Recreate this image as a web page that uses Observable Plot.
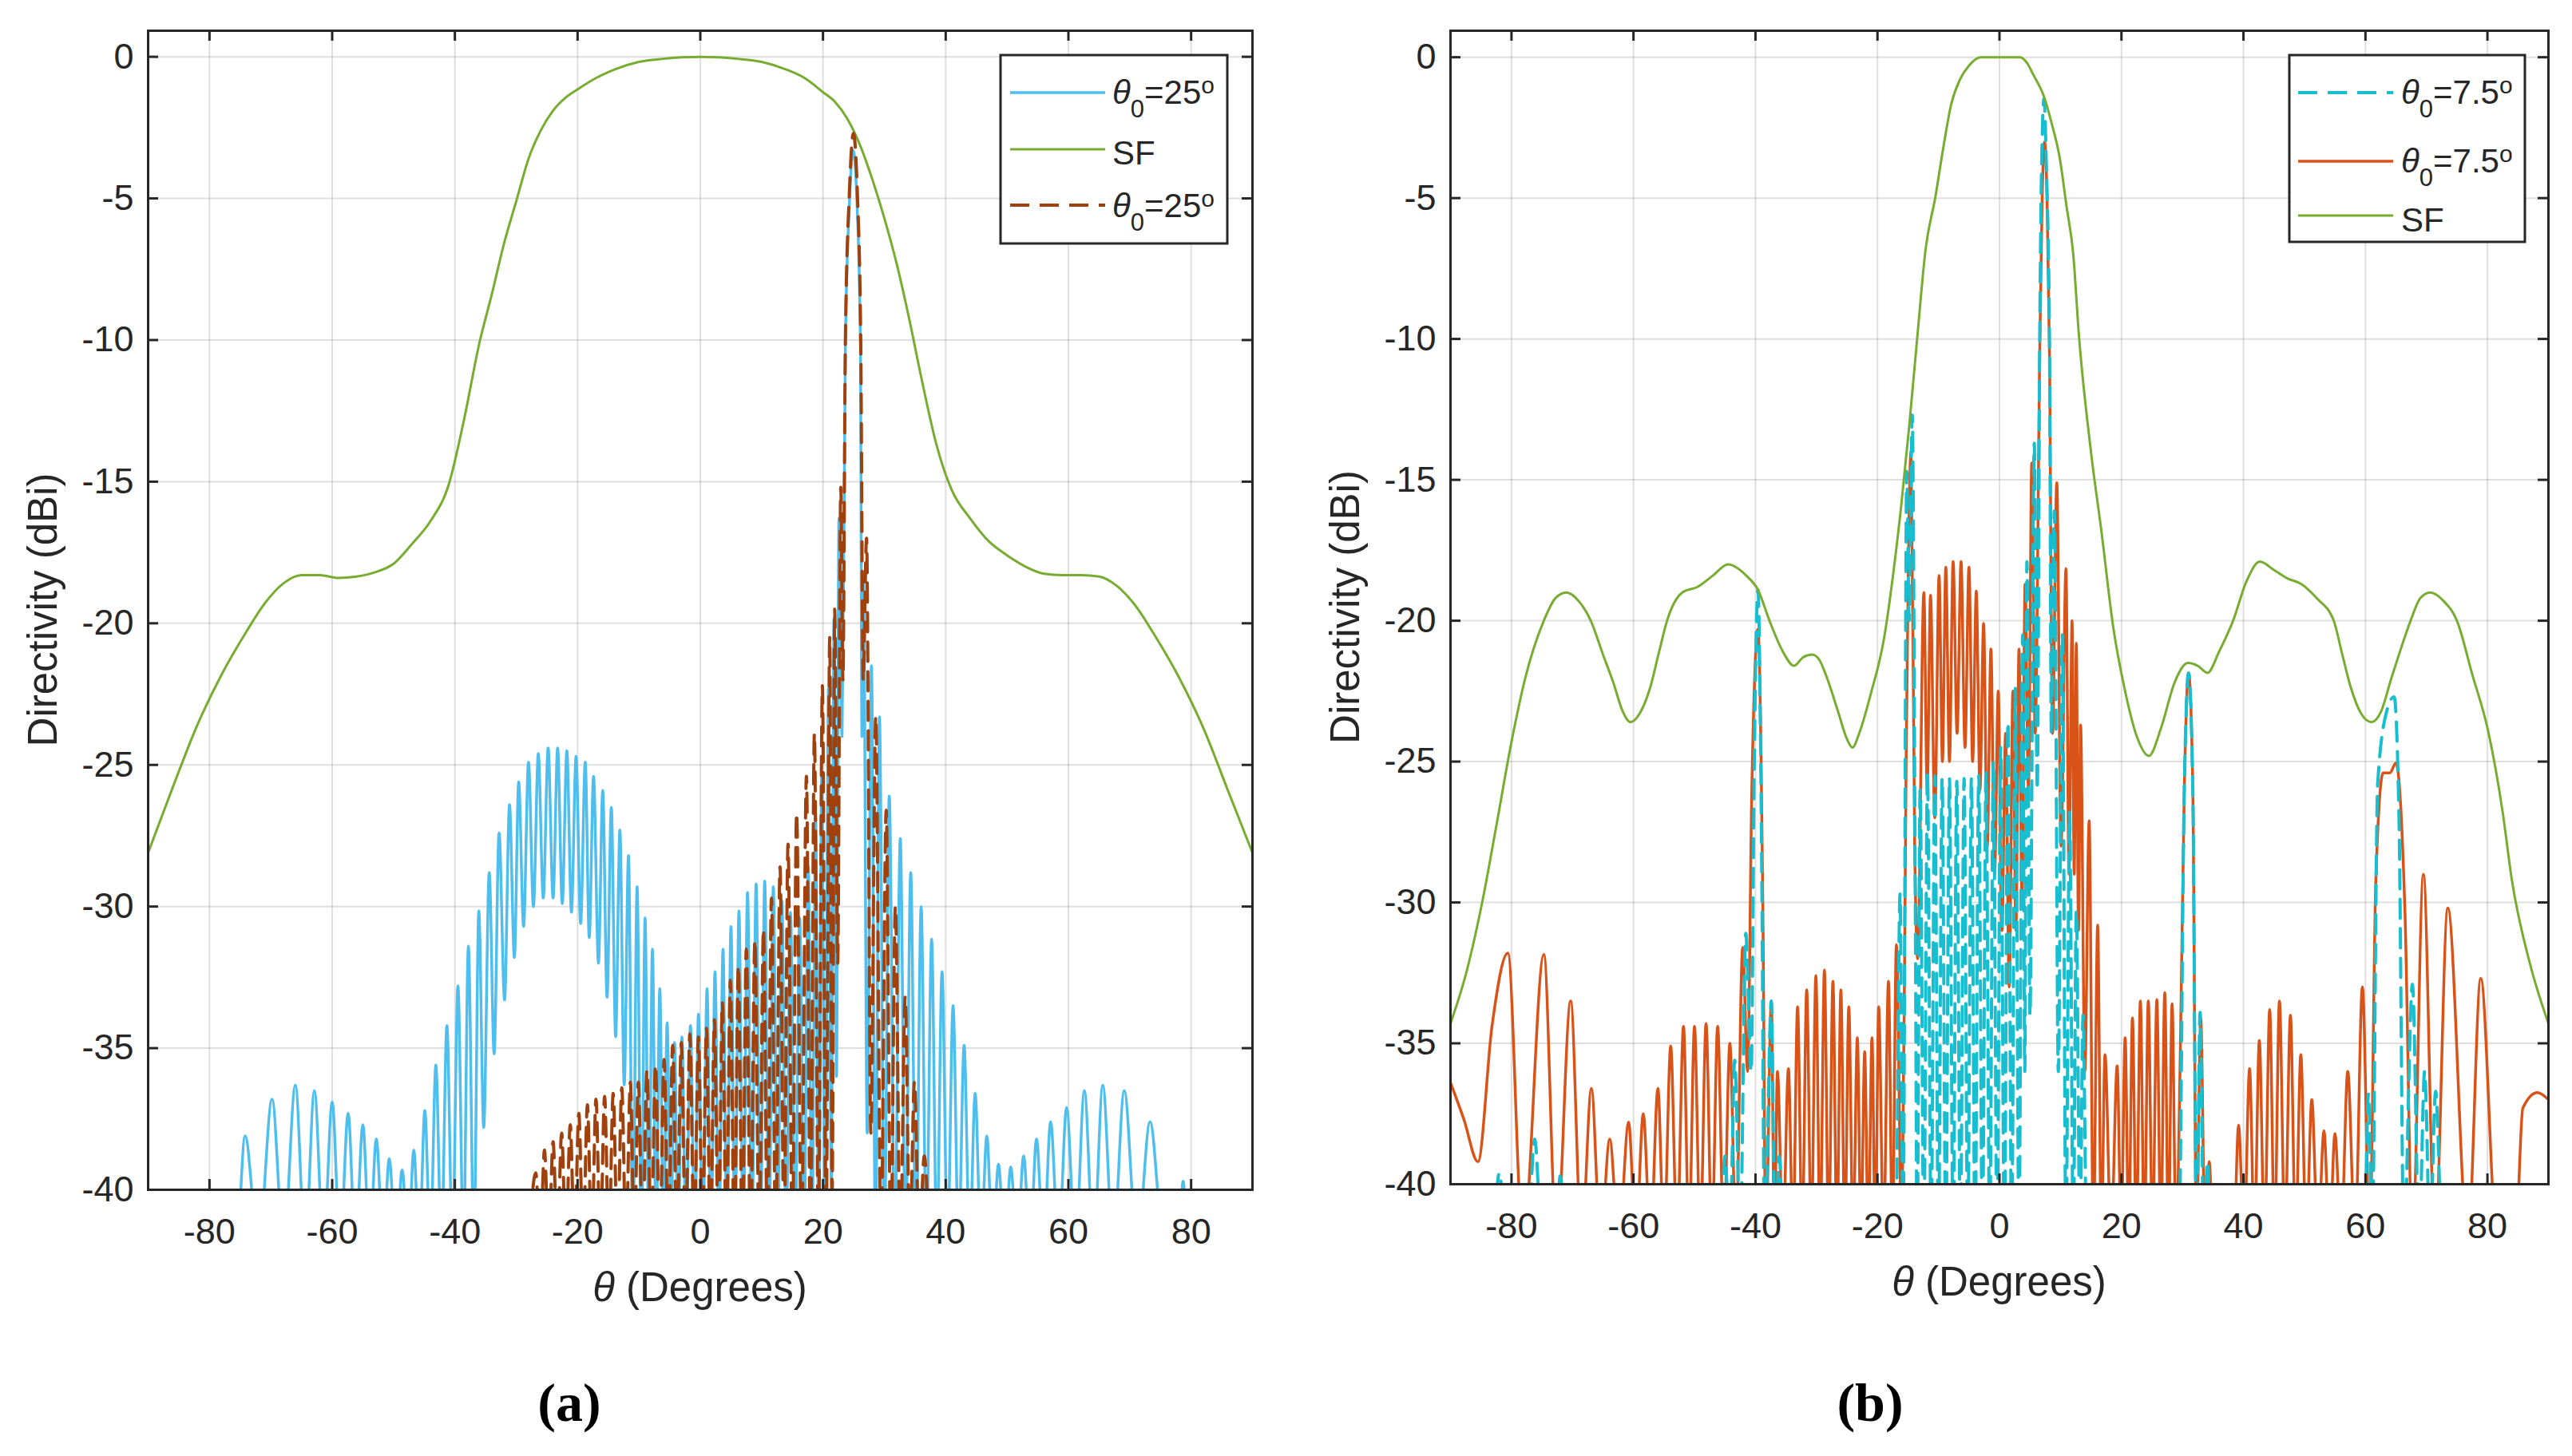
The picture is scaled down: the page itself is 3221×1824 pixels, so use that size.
<!DOCTYPE html>
<html><head><meta charset="utf-8">
<script src="https://cdn.jsdelivr.net/npm/d3@7"></script>
<script src="https://cdn.jsdelivr.net/npm/@observablehq/plot@0.6"></script>
<style>
html,body{margin:0;padding:0;background:#fff;}
#page{position:relative;width:3221px;height:1824px;overflow:hidden;background:#fff;}
.panel{position:absolute;top:0;}
.cap{position:absolute;top:1757px;font-family:"Liberation Serif","Times New Roman",serif;font-weight:bold;font-size:68px;color:#000;transform:translate(-50%,-50%);white-space:nowrap;}
</style></head><body>
<div id="page">
  <div id="pa" class="panel" style="left:0;width:1610px;"></div>
  <div id="pb" class="panel" style="left:1610px;width:1611px;"></div>
  <div class="cap" style="left:713px;">(a)</div>
  <div class="cap" style="left:2342px;">(b)</div>
</div>
<script>
// ---------- data ----------
const xTicks = [-80, -60, -40, -20, 0, 20, 40, 60, 80];
const yTicks = [0, -5, -10, -15, -20, -25, -30, -35, -40];

// panel (a)
const aSF = [[-90,-28.1],[-86,-25.8],[-82,-23.6],[-78,-21.8],[-74,-20.3],[-71,-19.3],[-68,-18.6],[-65,-18.3],[-62,-18.3],[-59,-18.4],[-56,-18.35],[-53,-18.2],[-50,-17.9],[-47,-17.2],[-44,-16.4],[-41,-15.1],[-38.5,-12.8],[-36,-10.1],[-34,-8.4],[-32,-6.6],[-30,-5.1],[-28,-3.6],[-26,-2.6],[-24,-1.9],[-22,-1.45],[-20,-1.15],[-17,-0.75],[-14,-0.45],[-10,-0.18],[-6,-0.07],[-3,-0.02],[0,0],[3,-0.02],[6,-0.07],[10,-0.18],[14,-0.45],[17,-0.75],[20,-1.25],[22,-1.6],[24,-2.2],[26,-3.1],[28,-4.3],[30,-5.7],[32,-7.3],[34,-9.2],[36,-11.3],[38.5,-13.7],[41,-15.3],[44,-16.3],[47,-17.1],[50,-17.6],[53,-18.0],[56,-18.25],[59,-18.3],[62,-18.3],[65,-18.35],[68,-18.7],[71,-19.4],[74,-20.4],[78,-21.9],[82,-23.7],[86,-25.9],[90,-28.1]];

const aBlue = [[-90,-42],[-75.6,-42],[-74.2,-38.1],[-72.0,-42],[-69.8,-36.8],[-67.9,-42],[-66.0,-36.3],[-64.4,-42],[-62.9,-36.5],[-61.4,-42],[-60.0,-36.9],[-58.7,-42],[-57.4,-37.3],[-56.2,-42],[-55.0,-37.7],[-53.9,-42],[-52.8,-38.2],[-51.7,-42],[-50.7,-38.9],[-49.6,-42],[-48.6,-39.3],[-47.6,-42],[-46.7,-38.6],[-45.8,-42],[-44.9,-37.2],[-44.0,-42],[-43.1,-35.6],[-42.2,-42],[-41.3,-34.2],[-40.4,-42],[-39.5,-32.8],[-38.6,-42],[-37.8,-31.4],[-36.9,-42],[-36.1,-30.15],[-35.3,-37.8],[-34.4,-28.8],[-33.6,-35.2],[-32.8,-27.4],[-31.9,-33.3],[-31.1,-26.4],[-30.3,-31.8],[-29.6,-25.6],[-28.8,-30.7],[-28.0,-24.9],[-27.2,-30.0],[-26.4,-24.6],[-25.6,-29.7],[-24.8,-24.4],[-24.0,-29.7],[-23.25,-24.4],[-22.5,-29.9],[-21.75,-24.5],[-21.0,-30.2],[-20.25,-24.7],[-19.5,-30.6],[-18.75,-24.9],[-18.1,-31.1],[-17.4,-25.4],[-16.6,-32.0],[-15.9,-25.9],[-15.2,-33.2],[-14.5,-26.5],[-13.8,-34.6],[-13.1,-27.3],[-12.4,-36.3],[-11.7,-28.2],[-11.0,-42],[-10.3,-29.3],[-9.6,-42],[-9.0,-30.4],[-8.4,-42],[-7.8,-31.5],[-7.2,-42],[-6.6,-32.9],[-6.0,-42],[-5.4,-34.1],[-4.8,-42],[-4.2,-34.8],[-3.6,-42],[-3.0,-34.6],[-2.3,-42],[-1.6,-34.2],[-0.9,-42],[-0.3,-33.8],[0.4,-42],[1.1,-32.9],[1.75,-42],[2.4,-32.3],[3.05,-42],[3.7,-31.5],[4.35,-42],[5.0,-30.7],[5.65,-42],[6.3,-30.15],[7.0,-42],[7.7,-29.5],[8.4,-42],[9.1,-29.2],[9.8,-42],[10.5,-29.1],[11.2,-42],[11.9,-29.3],[12.6,-42],[13.3,-29.8],[14.0,-42],[14.7,-30.2],[15.45,-42],[16.2,-30.4],[16.9,-42],[17.6,-28.6],[18.2,-42],[18.8,-26.8],[19.3,-42],[19.8,-25.3],[20.35,-42],[20.9,-22.3],[21.35,-40],[21.8,-19.8],[22.2,-36],[22.6,-16.3],[23.1,-24],[23.65,-10.2],[24.3,-5.2],[24.9,-3.3],[25.55,-5.2],[26.1,-10.2],[26.35,-24],[26.6,-18.2],[27.2,-38],[27.9,-21.5],[28.55,-42],[29.2,-23.3],[30.0,-42],[30.8,-26.1],[31.7,-42],[32.6,-27.6],[33.45,-42],[34.3,-28.8],[35.15,-42],[36.0,-30.0],[36.85,-42],[37.7,-31.15],[38.55,-42],[39.4,-32.3],[40.3,-42],[41.2,-33.5],[42.1,-42],[43.0,-34.9],[43.9,-42],[44.8,-36.6],[45.75,-42],[46.7,-38.1],[47.65,-42],[48.6,-39.1],[49.6,-42],[50.6,-39.2],[51.65,-42],[52.7,-38.8],[53.75,-42],[54.8,-38.2],[55.95,-42],[57.1,-37.6],[58.4,-42],[59.7,-37.1],[61.15,-42],[62.6,-36.5],[64.1,-42],[65.6,-36.3],[67.3,-42],[69.1,-36.5],[71.2,-42],[73.3,-37.6],[75.6,-42],[77.9,-42],[78.7,-39.7],[79.5,-42],[90,-42]];

const aBrown = [[-28,-42],[-26.8,-39.4],[-26.1,-42],[-25.4,-38.6],[-24.7,-42],[-24.0,-38.3],[-23.3,-42],[-22.6,-38.0],[-21.9,-42],[-21.2,-37.7],[-20.5,-42],[-19.8,-37.3],[-19.1,-42],[-18.4,-37.0],[-17.7,-42],[-17.0,-36.8],[-16.3,-42],[-15.6,-36.7],[-14.9,-42],[-14.2,-36.6],[-13.5,-42],[-12.8,-36.4],[-12.1,-42],[-11.4,-36.2],[-10.75,-42],[-10.1,-36.2],[-9.4,-42],[-8.7,-35.8],[-8.0,-42],[-7.3,-35.6],[-6.6,-42],[-5.9,-35.4],[-5.2,-42],[-4.5,-34.9],[-3.8,-42],[-3.1,-34.8],[-2.4,-42],[-1.7,-34.5],[-1.0,-42],[-0.3,-34.6],[0.35,-42],[1.0,-34.3],[1.65,-42],[2.3,-34.0],[2.95,-42],[3.6,-33.4],[4.25,-42],[4.9,-32.6],[5.55,-42],[6.2,-32.1],[6.85,-42],[7.5,-31.5],[8.2,-42],[8.9,-31.2],[9.6,-42],[10.3,-30.8],[10.95,-42],[11.6,-29.7],[12.3,-42],[13.0,-28.6],[13.65,-42],[14.3,-27.8],[15.0,-42],[15.7,-26.7],[16.5,-42],[17.3,-25.4],[17.95,-42],[18.6,-23.9],[19.25,-42],[19.9,-22.2],[20.5,-42],[21.1,-20.5],[21.5,-40],[21.9,-19.5],[22.4,-32],[22.9,-15.2],[23.25,-22],[23.65,-10.0],[24.3,-4.8],[24.95,-2.7],[25.6,-4.8],[26.15,-10.0],[26.55,-22],[27.1,-17.0],[27.8,-38],[28.6,-23.3],[29.45,-42],[30.3,-26.6],[31.05,-42],[31.8,-30.0],[32.6,-42],[33.4,-33.2],[34.15,-42],[34.9,-36.2],[35.7,-42],[36.5,-38.8],[37.3,-42]];

// panel (b)
const bSF = [[-90,-34.3],[-87.3,-32.4],[-84.9,-30.1],[-82.5,-27.3],[-80,-24.3],[-77.7,-22.0],[-74.7,-20.0],[-72.8,-19.2],[-71,-19.0],[-69,-19.3],[-67,-20.0],[-65,-21.2],[-63.3,-22.2],[-61.8,-23.2],[-60.5,-23.6],[-59,-23.3],[-57.3,-22.4],[-55.8,-21.1],[-54.5,-20.0],[-52,-19.0],[-49.5,-18.8],[-47,-18.4],[-44.5,-18.0],[-41.5,-18.4],[-39.6,-18.9],[-37.7,-20.0],[-35.5,-21.1],[-33.7,-21.6],[-32.2,-21.3],[-30.7,-21.2],[-29.5,-21.4],[-28.5,-21.9],[-26.5,-23.2],[-25,-24.2],[-24.1,-24.5],[-23,-24.0],[-21.1,-22.6],[-18.9,-20.6],[-17.4,-18.3],[-16.1,-15.9],[-14.8,-13.1],[-13.5,-10.0],[-12.1,-6.8],[-10.5,-4.95],[-9.2,-3.2],[-7.9,-1.66],[-6.5,-0.8],[-5,-0.3],[-3.1,0],[0,0],[3.4,0],[4.5,-0.2],[5.5,-0.6],[7.3,-1.4],[8.5,-2.3],[9.9,-3.6],[11.0,-5.3],[12.1,-7.0],[13.0,-9.8],[15.0,-14.0],[16.7,-16.8],[18.7,-20.3],[20.5,-22.4],[22.5,-24.1],[24.5,-24.8],[26.5,-23.8],[28.7,-22.2],[30.9,-21.5],[32.5,-21.6],[34.1,-21.85],[36,-21.1],[38.3,-20.0],[40.5,-18.6],[42.7,-17.9],[45,-18.2],[47.2,-18.5],[49.5,-18.7],[52,-19.2],[54.8,-20.0],[56.2,-21.2],[57.5,-22.3],[59.3,-23.3],[61.0,-23.6],[62.6,-23.2],[64.3,-22.0],[65.8,-21.0],[67.4,-20.0],[69,-19.2],[70.6,-19.0],[72.8,-19.3],[75,-20.0],[77.5,-21.9],[80.1,-23.9],[82.5,-26.8],[84,-29.2],[87,-32.2],[90,-34.3]];

const bOrange = [[-90,-36.4],[-87.8,-37.7],[-85.5,-39.2],[-83.2,-34.4],[-80.6,-31.8],[-78.1,-42],[-74.7,-31.85],[-72.6,-42],[-70.3,-33.5],[-68.5,-42],[-66.9,-36.6],[-65.4,-42],[-63.9,-38.4],[-62.4,-42],[-60.8,-37.8],[-59.6,-42],[-58.4,-37.5],[-57.2,-42],[-56.0,-36.6],[-55.0,-42],[-53.9,-35.1],[-52.85,-42],[-51.8,-34.4],[-50.9,-42],[-50.0,-34.4],[-49.05,-42],[-48.1,-34.3],[-47.15,-42],[-46.2,-34.4],[-45.2,-42],[-44.2,-35.0],[-43.2,-42],[-42.1,-31.6],[-41.3,-36],[-40.6,-26],[-39.6,-20.3],[-38.8,-30],[-38.3,-42],[-37.4,-33.5],[-36.9,-42],[-36.4,-36.0],[-35.5,-42],[-34.6,-35.9],[-33.85,-42],[-33.1,-33.7],[-32.35,-42],[-31.6,-33.1],[-30.85,-42],[-30.1,-32.6],[-29.4,-42],[-28.7,-32.4],[-28.0,-42],[-27.3,-32.8],[-26.65,-42],[-26.0,-33.1],[-25.35,-42],[-24.7,-33.7],[-24.0,-42],[-23.3,-34.8],[-22.7,-42],[-22.1,-35.3],[-21.5,-42],[-20.9,-34.8],[-20.35,-42],[-19.8,-33.7],[-19.0,-42],[-18.2,-32.8],[-17.55,-42],[-16.9,-31.5],[-16.0,-42],[-15.3,-25],[-14.5,-14.0],[-13.9,-28],[-13.4,-32],[-12.4,-19.0],[-11.85,-26],[-11.3,-19.1],[-10.6,-27],[-9.9,-18.4],[-9.35,-25],[-8.8,-18.1],[-8.2,-25],[-7.6,-17.9],[-6.95,-24],[-6.3,-17.9],[-5.65,-24.5],[-5.0,-18.1],[-4.4,-25],[-3.8,-18.95],[-3.2,-26],[-2.6,-20.1],[-2.0,-28],[-1.4,-21.0],[-0.8,-29],[-0.2,-22.5],[0.4,-31],[1.0,-24.0],[1.6,-33],[2.2,-22.5],[2.7,-31],[3.2,-21.0],[3.7,-30],[4.2,-18.7],[4.75,-26],[5.3,-14.4],[5.85,-24],[6.6,-10.5],[7.0,-5.0],[7.4,-3.0],[7.8,-5.0],[8.2,-10.5],[8.7,-24],[9.4,-15.1],[10.1,-28],[10.9,-18.15],[11.4,-29],[11.9,-20.0],[12.25,-29],[12.6,-20.8],[12.95,-31],[13.3,-23.7],[14.0,-36],[14.7,-27.1],[15.4,-42],[16.1,-30.8],[16.7,-42],[17.3,-35.4],[18.3,-42],[19.3,-35.8],[19.95,-42],[20.6,-34.8],[21.2,-42],[21.8,-34.1],[22.45,-42],[23.1,-33.5],[23.75,-42],[24.4,-33.5],[25.1,-42],[25.8,-33.45],[26.45,-42],[27.1,-33.2],[27.7,-42],[28.3,-33.6],[28.95,-42],[29.6,-36],[30.3,-26],[31.0,-21.85],[31.7,-26],[32.3,-42],[33.0,-34.1],[33.7,-42],[34.4,-39.2],[35.0,-42],[38.4,-42],[39.2,-37.9],[40.1,-42],[41.0,-35.9],[41.8,-42],[42.6,-34.9],[43.45,-42],[44.3,-33.8],[45.1,-42],[45.9,-33.5],[46.8,-42],[47.7,-34.0],[48.55,-42],[49.4,-35.4],[50.3,-42],[51.2,-37.0],[52.2,-42],[53.2,-38.1],[54.1,-42],[55.0,-38.2],[56.0,-42],[57.1,-36.0],[58.3,-42],[59.5,-33.0],[60.7,-42],[61.7,-29.2],[62.9,-25.4],[64.0,-25.4],[65.0,-25.05],[66.5,-30.5],[67.7,-42],[69.5,-29.0],[71.4,-42],[73.5,-30.2],[76.8,-42],[78.9,-32.7],[81.6,-42],[84.6,-42],[85.8,-37.3],[88.2,-36.75],[90,-37.0]];

const bCyan = [[-90,-42],[-83.2,-42],[-82.0,-39.6],[-80.8,-42],[-77.4,-42],[-76.2,-38.4],[-75.0,-42],[-72.8,-42],[-72.0,-39.7],[-71.2,-42],[-45.8,-42],[-45.0,-39.0],[-44.2,-42],[-43.4,-35.6],[-42.5,-42],[-41.6,-31.1],[-40.7,-36],[-40.2,-25],[-39.6,-18.9],[-39.0,-28],[-38.5,-42],[-37.4,-33.5],[-36.8,-42],[-36.1,-39.0],[-35.4,-42],[-17.0,-42],[-16.3,-29.7],[-15.8,-42],[-15.2,-14.7],[-14.8,-20],[-14.3,-12.7],[-13.8,-30],[-13.5,-42],[-13.0,-26.0],[-12.4,-42],[-11.8,-25.4],[-11.2,-42],[-10.6,-25.5],[-10.0,-42],[-9.4,-25.6],[-8.8,-42],[-8.2,-25.6],[-7.6,-42],[-7.0,-25.7],[-6.4,-42],[-5.8,-25.6],[-5.2,-42],[-4.6,-25.6],[-4.0,-42],[-3.4,-25.5],[-2.8,-42],[-2.2,-25.4],[-1.6,-42],[-1.0,-25.0],[-0.4,-42],[0.2,-24.5],[0.8,-42],[1.4,-23.6],[2.0,-42],[2.6,-22.4],[3.2,-42],[3.8,-20.5],[4.15,-36],[4.5,-17.9],[5.0,-34],[5.7,-13.7],[6.2,-26],[6.6,-10.0],[6.9,-4.0],[7.3,-1.47],[7.7,-4.0],[8.2,-10.0],[8.5,-24],[9.0,-16.1],[9.65,-36],[10.3,-20.5],[10.9,-42],[11.5,-26.8],[12.1,-42],[12.6,-30.3],[13.2,-42],[13.7,-34],[14.3,-42],[29.4,-42],[30.3,-26],[31.0,-21.85],[31.7,-26],[32.3,-42],[32.9,-33.9],[33.5,-42],[34.1,-39.2],[34.7,-42],[59.8,-42],[60.5,-36.8],[61.1,-42],[62.0,-25.8],[63.5,-23.2],[64.7,-22.7],[65.5,-27],[66.3,-42],[67.7,-32.9],[68.8,-42],[69.7,-36],[70.6,-42],[71.5,-36.7],[72.6,-42],[90,-42]];

const aLegend = [{theta: "25"}, {text: "SF"}, {theta: "25"}];
const bLegend = [{theta: "7.5"}, {theta: "7.5"}, {text: "SF"}];
const xLabel = "(Degrees)";
const yLabel = "Directivity (dBi)";

// ---------- styles ----------
const INK = "#262626";
const FONT = '"Liberation Sans", Arial, Helvetica, sans-serif';
const C = {blue: "#4DBEEE", green: "#77AC30", brown: "#A0400C", orange: "#D95319", cyan: "#17BECF"};
const DASH = "24,13";

function makePanel(cfg) {
  const {width, height, mt, mb, ml, mr, yTop, series} = cfg;
  const pxDb = (height - mt - mb) / (yTop + 40);
  const pxDeg = (width - ml - mr) / 180;
  const tY = 13 / pxDb, tX = 13 / pxDeg;
  const marks = [
    Plot.ruleX(xTicks, {x: d => d, stroke: INK, strokeOpacity: 0.15, strokeWidth: 2}),
    Plot.ruleY(yTicks, {y: d => d, stroke: INK, strokeOpacity: 0.15, strokeWidth: 2}),
    ...series.map(s => Plot.line(s.data, {x: d => d[0], y: d => d[1], stroke: s.color, strokeWidth: s.width, strokeDasharray: s.dash, curve: "monotone-x", clip: true})),
    Plot.ruleX(xTicks, {x: d => d, y1: -40, y2: -40 + tY, stroke: INK, strokeWidth: 3}),
    Plot.ruleX(xTicks, {x: d => d, y1: yTop, y2: yTop - tY, stroke: INK, strokeWidth: 3}),
    Plot.ruleY(yTicks, {y: d => d, x1: -90, x2: -90 + tX, stroke: INK, strokeWidth: 3}),
    Plot.ruleY(yTicks, {y: d => d, x1: 90, x2: 90 - tX, stroke: INK, strokeWidth: 3}),
    Plot.frame({stroke: INK, strokeWidth: 3}),
    Plot.axisX(xTicks, {tickSize: 0, tickPadding: 36, tickFormat: d => String(d), label: null, fontSize: 45}),
    Plot.axisY(yTicks, {tickSize: 0, tickPadding: 18, tickFormat: d => String(d), label: null, fontSize: 45})
  ];
  return Plot.plot({
    width, height, marginTop: mt, marginBottom: mb, marginLeft: ml, marginRight: mr,
    x: {domain: [-90, 90]}, y: {domain: [-40, yTop]},
    style: {fontFamily: FONT, fontSize: "45px", background: "white", color: INK, overflow: "visible"},
    marks
  });
}

function addLabels(svg, {cx, xBase, yx, cy}) {
  const s = d3.select(svg);
  const t = s.append("text").attr("x", cx).attr("y", xBase).attr("text-anchor", "middle")
    .attr("font-size", 51).attr("fill", INK).attr("font-family", FONT);
  t.append("tspan").attr("font-style", "italic").text("θ");
  t.append("tspan").text(" " + xLabel);
  s.append("text").attr("x", yx).attr("y", cy).attr("text-anchor", "middle")
    .attr("transform", `rotate(-90 ${yx} ${cy})`)
    .attr("font-size", 51).attr("fill", INK).attr("font-family", FONT).text(yLabel);
}

function addLegend(svg, {box, lx1, lx2, tx, rows, items}) {
  const g = d3.select(svg).append("g").attr("font-family", FONT);
  g.append("rect").attr("x", box[0]).attr("y", box[1]).attr("width", box[2]).attr("height", box[3])
    .attr("fill", "white").attr("stroke", INK).attr("stroke-width", 3);
  items.forEach((it, i) => {
    const r = rows[i];
    g.append("line").attr("x1", lx1).attr("x2", lx2).attr("y1", r.y).attr("y2", r.y)
      .attr("stroke", it.color).attr("stroke-width", it.width).attr("stroke-dasharray", it.dash || null);
    const t = g.append("text").attr("x", tx).attr("y", r.base).attr("text-anchor", "start")
      .attr("font-size", 42).attr("fill", INK);
    if (it.lab.theta) {
      t.append("tspan").attr("font-style", "italic").text("θ");
      t.append("tspan").attr("font-size", 31).attr("dy", 17).text("0");
      t.append("tspan").attr("dy", -17).text("=" + it.lab.theta);
      t.append("tspan").attr("font-size", 30).attr("dy", -13).text("o");
    } else {
      t.text(it.lab.text);
    }
  });
}

// ---------- panel (a) ----------
const svgA = makePanel({
  width: 1610, height: 1690, mt: 38, mb: 200, ml: 185, mr: 42, yTop: 0.92,
  series: [
    {data: aBlue, color: C.blue, width: 3.5},
    {data: aSF, color: C.green, width: 3},
    {data: aBrown, color: C.brown, width: 4, dash: DASH}
  ]
});
addLabels(svgA, {cx: 876.5, xBase: 1630, yx: 71, cy: 764});
addLegend(svgA, {
  box: [1253, 69, 284, 236], lx1: 1265, lx2: 1384, tx: 1393,
  rows: [{y: 116, base: 130}, {y: 187, base: 206}, {y: 257, base: 272}],
  items: [
    {lab: aLegend[0], color: C.blue, width: 3.5},
    {lab: aLegend[1], color: C.green, width: 3},
    {lab: aLegend[2], color: C.brown, width: 4, dash: DASH}
  ]
});
document.getElementById("pa").appendChild(svgA);

// ---------- panel (b) ----------
const svgB = makePanel({
  width: 1611, height: 1690, mt: 38, mb: 207, ml: 206, mr: 30, yTop: 0.94,
  series: [
    {data: bOrange, color: C.orange, width: 3.5},
    {data: bCyan, color: C.cyan, width: 4, dash: DASH},
    {data: bSF, color: C.green, width: 3}
  ]
});
addLabels(svgB, {cx: 893.5, xBase: 1623, yx: 92, cy: 760.5});
addLegend(svgB, {
  box: [1257, 69, 295, 234], lx1: 1268, lx2: 1387, tx: 1397,
  rows: [{y: 116, base: 130}, {y: 202, base: 216}, {y: 270, base: 290}],
  items: [
    {lab: bLegend[0], color: C.cyan, width: 4, dash: DASH},
    {lab: bLegend[1], color: C.orange, width: 3.5},
    {lab: bLegend[2], color: C.green, width: 3}
  ]
});
document.getElementById("pb").appendChild(svgB);
</script>
</body></html>
